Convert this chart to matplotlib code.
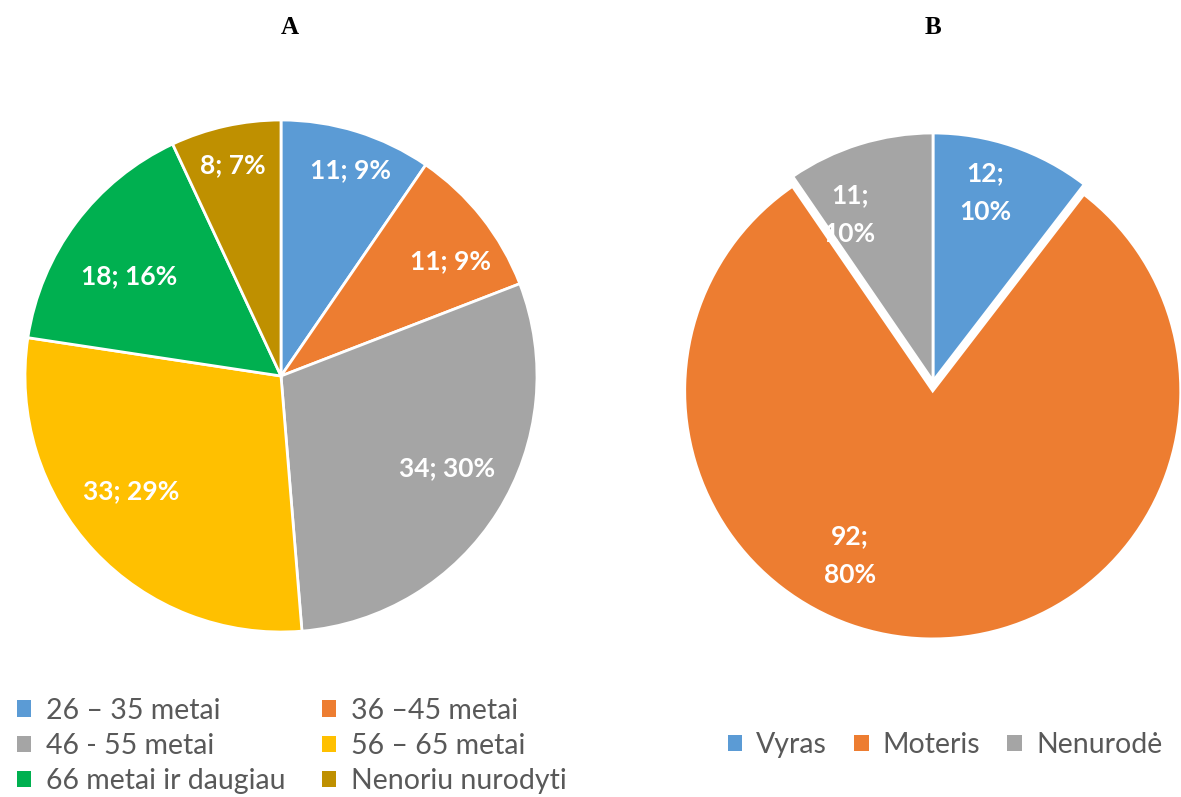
import numpy as np
import matplotlib
matplotlib.use("Agg")
import matplotlib.pyplot as plt
from matplotlib.patches import Patch

plt.rcParams['font.family'] = ['Lato', 'DejaVu Sans']

# --- data ---
age_labels = ['26 – 35 metai', '36 –45 metai', '46 - 55 metai',
              '56 – 65 metai', '66 metai ir daugiau', 'Nenoriu nurodyti']
age_counts = [11, 11, 34, 33, 18, 8]
age_pcts = [9, 9, 30, 29, 16, 7]
age_colors = ['#5B9BD5', '#ED7D31', '#A5A5A5', '#FFC000', '#00B050', '#BF9000']

sex_labels = ['Vyras', 'Moteris', 'Nenurodė']
sex_counts = [12, 92, 11]
sex_pcts = [10, 80, 10]
sex_colors = ['#5B9BD5', '#ED7D31', '#A5A5A5']

# label placement (angle in degrees, radius as fraction of pie radius)
age_lab_ang = [71.5, 34, -29, -142.5, 146.7, 102.8]
age_lab_r = [0.85, 0.80, 0.74, 0.74, 0.71, 0.845]
sex_lab_ang = [74.5, -115.5, 116.6]
sex_lab_r = [0.79, 0.78, 0.75]

W, H = 1181, 797
fig = plt.figure(figsize=(W / 100, H / 100), dpi=100)


def pie_axes(cx, cy, r):
    return fig.add_axes([(cx - r) / W, (H - cy - r) / H, 2 * r / W, 2 * r / H])


def draw_pie(ax, counts, pcts, colors, lab_ang, lab_r, two_line, explode=None):
    ax.pie(counts, colors=colors, startangle=90, counterclock=False,
           explode=explode, radius=1,
           wedgeprops=dict(edgecolor='white', linewidth=2))
    sep = '\n' if two_line else ' '
    for i, (c, p) in enumerate(zip(counts, pcts)):
        a = np.deg2rad(lab_ang[i])
        ax.text(lab_r[i] * np.cos(a), lab_r[i] * np.sin(a), f'{c};{sep}{p}%',
                ha='center', va='center', color='white', fontsize=19,
                fontweight='bold', linespacing=1.75)
    ax.set_xlim(-1, 1)
    ax.set_ylim(-1, 1)
    ax.set_aspect('equal')
    ax.axis('off')


# pie A
axA = pie_axes(281, 376, 256)
draw_pie(axA, age_counts, age_pcts, age_colors, age_lab_ang, age_lab_r, False)

# pie B (orange slice pulled out)
axB = pie_axes(933, 381, 248)
draw_pie(axB, sex_counts, sex_pcts, sex_colors, sex_lab_ang, sex_lab_r, True,
         explode=[0, 0.04, 0])

fig.text(290 / W, 1 - 28 / H, 'A', ha='center', va='center',
         fontsize=18, fontweight='bold', family='Liberation Serif')
fig.text(933 / W, 1 - 28 / H, 'B', ha='center', va='center',
         fontsize=18, fontweight='bold', family='Liberation Serif')

hA = [Patch(facecolor=c, edgecolor='none') for c in age_colors]
# reorder so two columns read row-wise
order = [0, 2, 4, 1, 3, 5]
fig.legend([hA[i] for i in order], [age_labels[i] for i in order],
           loc='center left', bbox_to_anchor=(3 / W, 1 - 746 / H),
           ncol=2, frameon=False, fontsize=20.5, handlelength=0.5,
           handleheight=0.5, handletextpad=0.5, columnspacing=1.3,
           labelspacing=0.33, labelcolor='#595959', borderpad=0)

hB = [Patch(facecolor=c, edgecolor='none') for c in sex_colors]
fig.legend(hB, sex_labels, loc='center', bbox_to_anchor=(945 / W, 1 - 745 / H),
           ncol=3, frameon=False, fontsize=20.5, handlelength=0.5,
           handleheight=0.5, handletextpad=0.5, columnspacing=0.95,
           labelcolor='#595959', borderpad=0)

fig.savefig('out.png', dpi=100)
